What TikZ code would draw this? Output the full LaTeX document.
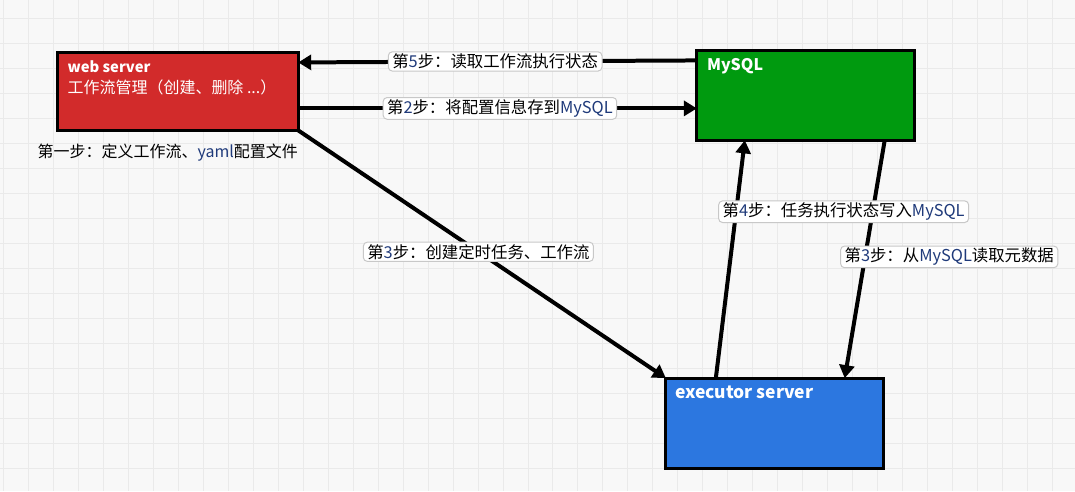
\documentclass[tikz,border=0pt]{standalone}
\usepackage{fontspec}
\newfontfamily\cjk{Noto Sans CJK SC}
\usetikzlibrary{arrows.meta}
\definecolor{bg}{HTML}{F8F8F8}
\definecolor{gridc}{HTML}{EAEAEA}
\definecolor{webred}{HTML}{D22B2B}
\definecolor{dbgreen}{HTML}{009A0F}
\definecolor{exblue}{HTML}{2C77E0}
\definecolor{lat}{HTML}{1F3A7A}
\definecolor{lblborder}{HTML}{C8C8C8}
\newcommand{\lt}[1]{\textcolor{lat}{#1}}
\begin{document}
\begin{tikzpicture}[x=1pt,y=-1pt,
 box/.style={draw=black, line width=3pt, anchor=north west, inner sep=0pt, outer sep=0pt},
 title/.style={anchor=north west, text=white, font=\cjk\fontsize{16}{21}\selectfont, inner sep=0pt, align=left},
 conn/.style={line width=4pt, -{Triangle[length=13pt,width=15pt]}},
 lbl/.style={fill=white, draw=lblborder, line width=1pt, rounded corners=4pt, inner xsep=4pt, inner ysep=2pt, font=\cjk\fontsize{16.4}{19}\selectfont, text=black},
]
\fill[bg] (0,0) rectangle (1075,491);
\foreach \x in {3,28,...,1075} \draw[gridc, line width=1pt] (\x,0) -- (\x,491);
\foreach \y in {18,43,...,491} \draw[gridc, line width=1pt] (0,\y) -- (1075,\y);
\useasboundingbox (0,0) rectangle (1075,491);

\node[box, fill=webred, minimum width=241pt, minimum height=78pt] (web) at (57,52) {};
\node[box, fill=dbgreen, minimum width=218pt, minimum height=90pt] (mysql) at (697,50) {};
\node[box, fill=exblue, minimum width=218pt, minimum height=90pt] (exec) at (666,378) {};

\node[title] (webt) at ([xshift=10pt,yshift=-8pt]web.north west) {{\fontsize{14.8}{21}\selectfont\bfseries web server}\\\mdseries 工作流管理（创建、删除 ...）};
\node[title] (mysqlt) at ([xshift=10pt,yshift=-8pt]mysql.north west) {\bfseries MySQL};
\node[title, font=\cjk\fontsize{17.5}{21}\selectfont] (exect) at ([xshift=9pt,yshift=-8pt]exec.north west) {\bfseries executor server};

\node[anchor=west, inner sep=0pt, font=\cjk\fontsize{16}{19}\selectfont] (step1) at ([xshift=-20pt,yshift=-22pt]web.south west) {第一步：定义工作流、\lt{yaml}配置文件};

\draw[conn] ([yshift=-10pt]mysql.north west) -- node[lbl,pos=0.506]{第\lt{5}步：读取工作流执行状态} ([yshift=-10pt]web.north east);
\draw[conn] ([yshift=22pt]web.south east) -- node[lbl,pos=0.506]{第\lt{2}步：将配置信息存到\lt{MySQL}} ([yshift=-58pt]mysql.north west);
\draw[conn] (web.south east) -- node[lbl,pos=0.49]{第\lt{3}步：创建定时任务、工作流} (exec.north west);
\draw[conn] ([xshift=-30pt]mysql.south east) -- node[lbl,pos=0.49,anchor=west,xshift=-25pt]{第\lt{3}步：从\lt{MySQL}读取元数据} ([xshift=-39pt]exec.north east);
\draw[conn] ([xshift=50pt]exec.north west) -- node[lbl,pos=0.7,anchor=west,xshift=-18pt]{第\lt{4}步：任务执行状态写入\lt{MySQL}} ([xshift=48pt]mysql.south west);
\end{tikzpicture}
\end{document}
